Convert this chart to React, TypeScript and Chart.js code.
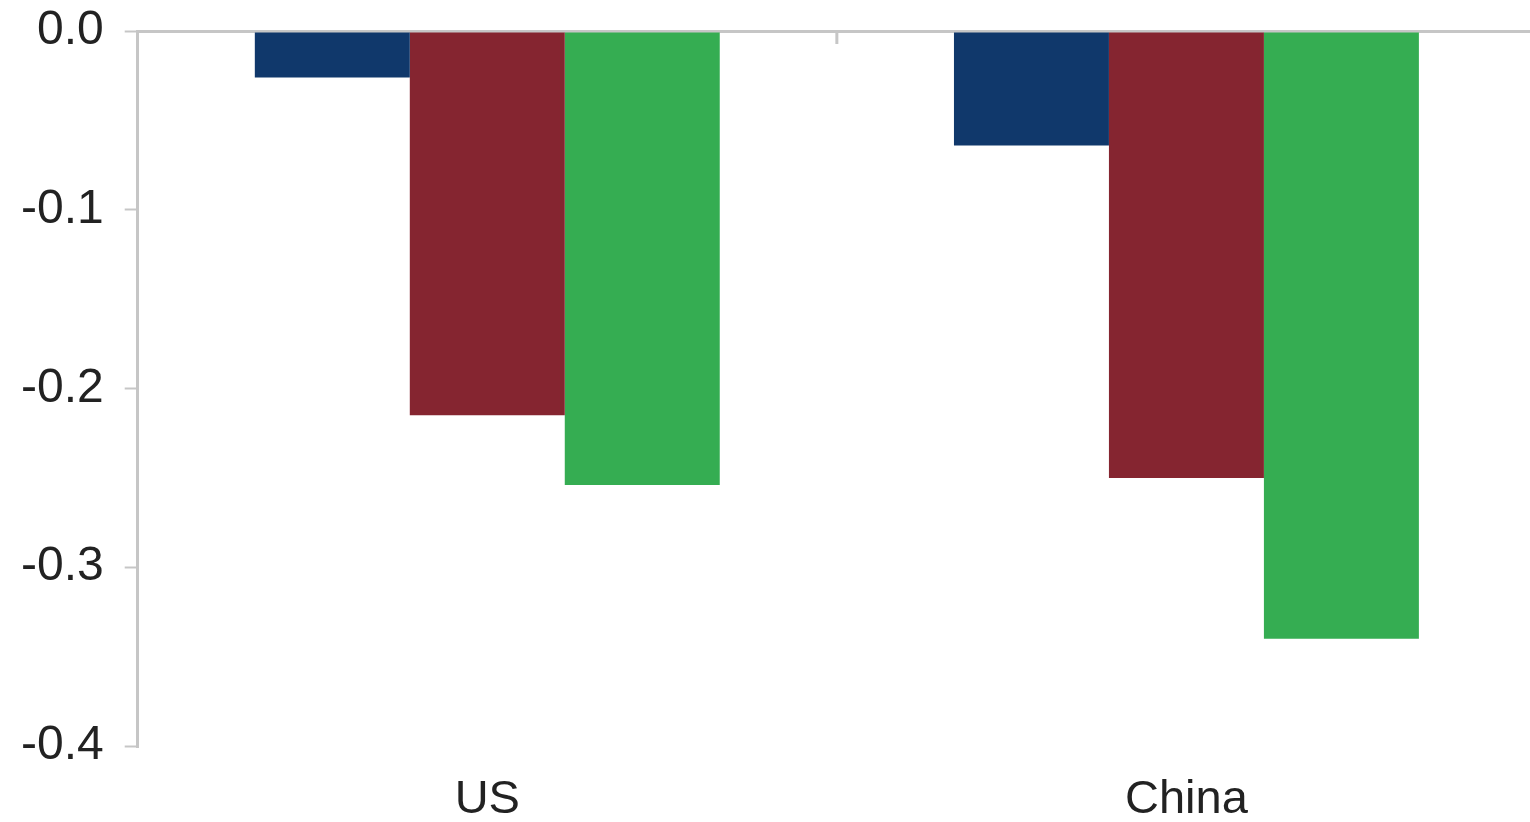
import React, { useEffect, useRef } from "react";
import { Chart, registerables } from "chart.js";

Chart.register(...registerables);

const categories = ["US", "China"];
const seriesA = [-0.026, -0.064];
const seriesB = [-0.215, -0.25];
const seriesC = [-0.254, -0.34];
const yTicks = [0, -0.1, -0.2, -0.3, -0.4];

const AXIS_GRAY = "#c6c6c6";
const FONT = "'Liberation Sans', Arial, sans-serif";

const boundaryTicks = {
  id: "boundaryTicks",
  afterDatasetsDraw(chart: any) {
    const { ctx, scales } = chart;
    const x = scales.x;
    const y = scales.y;
    const y0 = y.getPixelForValue(0);
    ctx.save();
    ctx.strokeStyle = AXIS_GRAY;
    ctx.lineWidth = 3;
    for (let i = 1; i < categories.length; i++) {
      const px = (x.getPixelForValue(i - 1) + x.getPixelForValue(i)) / 2;
      ctx.beginPath();
      ctx.moveTo(px, y0);
      ctx.lineTo(px, y0 + 13);
      ctx.stroke();
    }
    ctx.restore();
  },
};

export default function App() {
  const ref = useRef<HTMLCanvasElement | null>(null);
  useEffect(() => {
    document.body.style.margin = "0";
    const chart = new Chart(ref.current as HTMLCanvasElement, {
      type: "bar",
      data: {
        labels: categories,
        datasets: [
          { label: "A", data: seriesA, backgroundColor: "#10386b" },
          { label: "B", data: seriesB, backgroundColor: "#852530" },
          { label: "C", data: seriesC, backgroundColor: "#35ad52" },
        ],
      },
      options: {
        animation: false,
        responsive: true,
        maintainAspectRatio: false,
        layout: { padding: { top: 17, left: 0, right: 6, bottom: 0 } },
        plugins: { legend: { display: false }, tooltip: { enabled: false } },
        datasets: { bar: { categoryPercentage: 0.665, barPercentage: 1.0 } },
        scales: {
          x: {
            grid: { display: false, drawTicks: false },
            border: { display: false },
            ticks: {
              padding: 31,
              color: "#222",
              font: { family: FONT, size: 47, lineHeight: 1.0 },
            },
          },
          y: {
            min: -0.4,
            max: 0,
            afterBuildTicks: (scale: any) => {
              scale.ticks = yTicks.map((v) => ({ value: v }));
            },
            grid: {
              drawOnChartArea: true,
              color: (c: any) => (c.tick && c.tick.value === 0 ? AXIS_GRAY : "rgba(0,0,0,0)"),
              lineWidth: 3,
              tickColor: AXIS_GRAY,
              tickLength: 13,
              tickWidth: 2,
            },
            border: { display: true, color: AXIS_GRAY, width: 3 },
            ticks: {
              padding: 21,
              color: "#222",
              font: { family: FONT, size: 48, lineHeight: 1.0 },
              callback: (v: any) => Number(v).toFixed(1),
            },
          },
        },
      },
      plugins: [boundaryTicks],
    });
    return () => chart.destroy();
  }, []);
  return (
    <div style={{ position: "fixed", left: 0, top: 0, width: 1530, height: 822, overflow: "hidden", background: "#fff" }}>
      <div style={{ position: "relative", top: -14, width: 1542, height: 869 }}>
        <canvas ref={ref} />
      </div>
    </div>
  );
}
